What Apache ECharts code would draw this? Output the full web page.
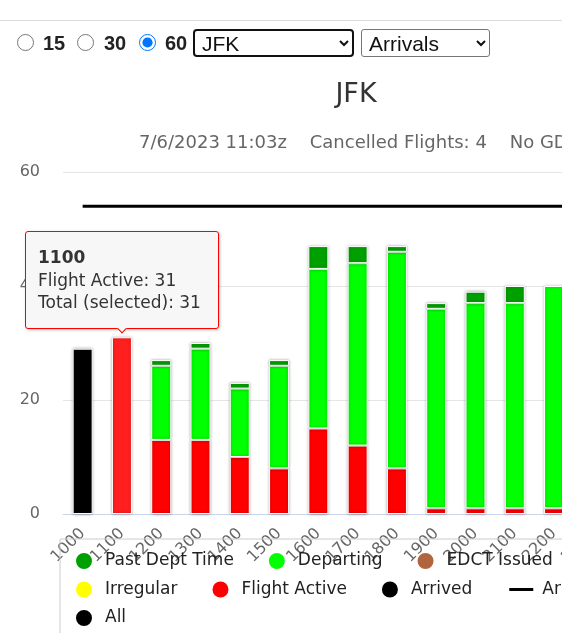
<!DOCTYPE html>
<html>
<head>
<meta charset="utf-8">
<script src="https://cdn.jsdelivr.net/npm/echarts@6/dist/echarts.min.js"></script>
<style>
  html, body { margin: 0; padding: 0; background: #fff; overflow: hidden; width: 562px; height: 633px; }
  #chart { position: absolute; left: 0; top: 0; width: 720px; height: 633px; }
  #controls { position: absolute; left: 0; top: 0; width: 562px; height: 60px; z-index: 5; font-family: 'Liberation Sans', Arial, sans-serif; }
  #controls .rule { position: absolute; left: 0; top: 20px; width: 562px; height: 1px; background: #dcdcdc; }
  #controls input[type=radio] { position: absolute; margin: 0; width: 17px; height: 17px; top: 34px; }
  #controls .lbl { position: absolute; top: 32px; font-weight: bold; font-size: 20px; line-height: 22px; color: #222; }
  #controls select { position: absolute; top: 29px; height: 28px; font-size: 21px; font-family: 'Liberation Sans', Arial, sans-serif; background: #fff; color: #111; padding: 0 3px; }
</style>
</head>
<body>
<div id="chart"></div>
<div id="controls">
  <div class="rule"></div>
  <input type="radio" name="bin" style="left:17px"><span class="lbl" style="left:43px">15</span>
  <input type="radio" name="bin" style="left:77px"><span class="lbl" style="left:104px">30</span>
  <input type="radio" name="bin" style="left:139px" checked><span class="lbl" style="left:165px">60</span>
  <select style="left:193px; width:161px; border:2px solid #111; border-radius:4px;"><option>JFK</option></select>
  <select style="left:361px; width:129px; border:1px solid #767676; border-radius:3px;"><option>Arrivals</option></select>
</div>
<script>
// hourly buckets (last one only carries the rate line off screen)
const categories = ['1000', '1100', '1200', '1300', '1400', '1500', '1600', '1700', '1800', '1900', '2000', '2100', '2200', '2300'];

// stacked counts per hour
const arrived = [29, '-', '-', '-', '-', '-', '-', '-', '-', '-', '-', '-', '-', '-'];
const flightActive = ['-', 31, 13, 13, 10, 8, 15, 12, 8, 1, 1, 1, 1, '-'];
const irregular = [];
const edctIssued = [];
const departing = ['-', '-', 13, 16, 12, 18, 28, 32, 38, 35, 36, 36, 39, '-'];
const pastDeptTime = ['-', '-', 1, 1, 1, 1, 4, 3, 1, 1, 2, 3, '-', '-'];
const allFlights = [];
const arrivalRate = [54, 54, 54, 54, 54, 54, 54, 54, 54, 54, 54, 54, 54, 54];

const yTicks = [0, 20, 40, 60];
const stackedSets = [arrived, flightActive, irregular, edctIssued, departing, pastDeptTime];

const FONT = "'DejaVu Sans', 'Noto Sans', sans-serif";

const chart = echarts.init(document.getElementById('chart'), null, { renderer: 'canvas' });

const barStyle = (color) => ({
    color: color,
    borderColor: '#ffffff',
    borderWidth: 1,
    shadowColor: 'rgba(0, 0, 0, 0.35)',
    shadowBlur: 3
});

const makeBar = (name, data, color) => ({
    name: name,
    type: 'bar',
    stack: 'total',
    barWidth: 20,
    data: data,
    itemStyle: barStyle(color),
    emphasis: { itemStyle: { color: color === '#ff0000' ? '#ff1f1f' : color } }
});

chart.setOption({
    animation: false,
    textStyle: { fontFamily: FONT },
    title: [
        {
            text: 'JFK',
            left: 351,
            top: 76,
            textAlign: 'center',
            textStyle: { fontSize: 27, fontWeight: 'normal', color: '#333', fontFamily: FONT }
        },
        {
            text: '7/6/2023 11:03z    Cancelled Flights: 4    No GDP',
            left: 134,
            top: 129,
            textStyle: { fontSize: 18, fontWeight: 'normal', color: '#666', fontFamily: FONT }
        }
    ],
    grid: { left: 63, top: 172, bottom: 119, right: 107, containLabel: false },
    xAxis: {
        type: 'category',
        data: categories,
        axisLine: { lineStyle: { color: '#ccd6eb' } },
        axisTick: { length: 13, lineStyle: { color: '#ccd6eb' } },
        axisLabel: { rotate: 45, interval: 0, fontSize: 16, color: '#666', margin: 17, fontFamily: FONT }
    },
    yAxis: {
        type: 'value',
        min: yTicks[0],
        max: yTicks[yTicks.length - 1],
        interval: yTicks[1] - yTicks[0],
        axisLine: { show: false },
        axisTick: { show: false },
        axisLabel: { fontSize: 16, color: '#666', margin: 23, fontFamily: FONT },
        splitLine: { lineStyle: { color: '#e6e6e6' } }
    },
    legend: {
        left: 60,
        top: 539,
        width: 610,
        padding: [12, 11, 12, 14],
        itemGap: 8.5,
        itemWidth: 32,
        itemHeight: 18,
        borderColor: '#cccccc',
        borderWidth: 1,
        data: [
            { name: 'Past Dept Time', icon: 'circle' },
            { name: 'Departing', icon: 'circle' },
            { name: 'EDCT Issued', icon: 'circle' },
            { name: 'Irregular', icon: 'circle' },
            { name: 'Flight Active', icon: 'circle' },
            { name: 'Arrived', icon: 'circle' },
            { name: 'Arrival Rate', icon: 'path://M-4,1L-4,1.01M0,0H24V3H0ZM28,1L28,1.01' },
            { name: 'All', icon: 'circle' }
        ],
        textStyle: { fontSize: 17, color: '#222', fontFamily: FONT, lineHeight: 17, padding: [0, 24.5, 0, 0] }
    },
    tooltip: {
        trigger: 'item',
        triggerOn: 'none',
        alwaysShowContent: true,
        transitionDuration: 0,
        position: 'top',
        backgroundColor: '#f7f7f7',
        borderColor: '#ff0000',
        borderWidth: 1,
        borderRadius: 3,
        padding: [14, 17, 14, 12],
        shadowBlur: 3,
        shadowOffsetX: 1,
        shadowOffsetY: 1,
        shadowColor: 'rgba(0, 0, 0, 0.25)',
        extraCssText: 'margin-top:2px;',
        textStyle: { fontSize: 17, color: '#333', fontFamily: FONT },
        formatter: (p) => {
            let total = 0;
            stackedSets.forEach(arr => {
                const v = arr[p.dataIndex];
                if (typeof v === 'number') total += v;
            });
            return '<div style="line-height:22.5px;font-family:' + FONT.replace(/'/g, '') + '">' +
                '<b>' + p.name + '</b><br/>' +
                p.seriesName + ': ' + p.value + '<br/>' +
                'Total (selected): ' + total + '</div>';
        }
    },
    series: [
        makeBar('Arrived', arrived, '#000000'),
        makeBar('Flight Active', flightActive, '#ff0000'),
        makeBar('Irregular', irregular, '#ffff00'),
        makeBar('EDCT Issued', edctIssued, '#b0653f'),
        makeBar('Departing', departing, '#00ff00'),
        makeBar('Past Dept Time', pastDeptTime, '#00a000'),
        makeBar('All', allFlights, '#000000'),
        {
            name: 'Arrival Rate',
            type: 'line',
            data: arrivalRate,
            symbol: 'none',
            z: 5,
            lineStyle: { color: '#000000', width: 3 },
            itemStyle: { color: '#000000' }
        }
    ]
});

// reproduce the hovered state on the 1100 bar
chart.dispatchAction({ type: 'highlight', seriesIndex: 1, dataIndex: 1 });
chart.dispatchAction({ type: 'showTip', seriesIndex: 1, dataIndex: 1 });
</script>
</body>
</html>
